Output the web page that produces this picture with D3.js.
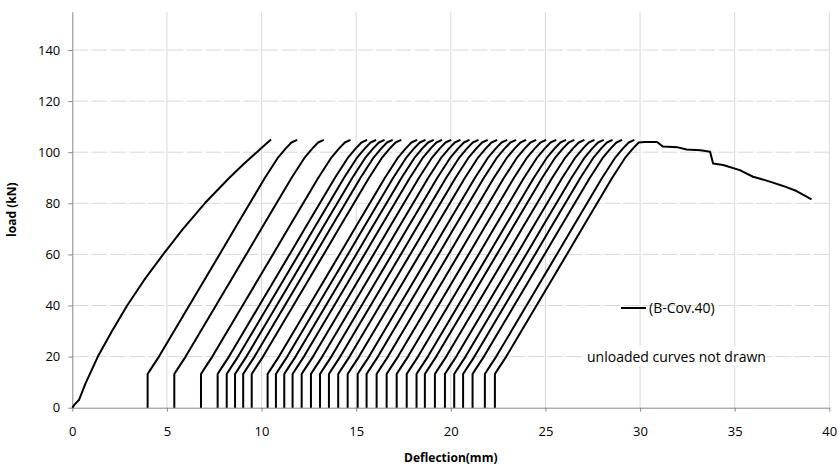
<!DOCTYPE html>
<html>
<head>
<meta charset="utf-8">
<script src="https://cdn.jsdelivr.net/npm/d3@7"></script>
<style>
  body { margin: 0; background: #fff; }
  text { font-family: "Open Sans", "Noto Sans", sans-serif; }
</style>
</head>
<body>
<div id="chart"></div>
<script>
// first loading curve (virgin)
const virginDefl = [0, 0.15, 0.35, 0.7, 1.35, 2.1, 2.9, 3.8, 4.8, 5.85, 7.0, 7.65, 8.3, 9.0, 9.75, 10.2, 10.5];
const virginLoad = [0, 1.5, 3, 9.5, 20, 30, 40, 50, 60, 70, 80, 85, 90, 95, 100, 103, 105];

// residual deflection where each reloading curve starts
const reloadStarts = [3.98, 5.39, 6.80, 7.68, 8.16, 8.60, 9.03, 9.48, 10.32, 10.76, 11.20,
  11.64, 12.12, 12.61, 13.09, 13.56, 14.05, 14.55, 15.08, 15.55, 16.08, 16.61, 17.14,
  17.67, 18.19, 18.63, 19.16, 19.69, 20.18, 20.65, 21.15, 21.80, 22.33];

// shape of a reloading branch, deflection measured from its start
const reloadDx   = [0, 0, 0.2, 0.6, 1.4, 2.2, 3.0, 3.8, 4.6, 5.4, 6.2, 6.9, 7.3, 7.6, 7.9];
const reloadLoad = [0, 13.2, 15.5, 20, 30, 40, 50, 60, 70, 80, 90, 98, 101.5, 103.8, 104.8];

// post-peak branch after last reload
const softDefl = [30.23, 30.9, 31.2, 32.0, 32.46, 33.2, 33.7, 33.86, 34.39, 35.27, 35.97, 36.86, 37.56, 38.27, 39.06];
const softLoad = [104.0, 104.0, 102.2, 101.9, 101.1, 100.8, 100.2, 95.6, 95.0, 93.0, 90.4, 88.5, 86.8, 84.8, 81.5];

const xTicks = [0, 5, 10, 15, 20, 25, 30, 35, 40];
const yTicks = [0, 20, 40, 60, 80, 100, 120, 140];

const width = 840, height = 472;
const margin = { top: 11.7, right: 10.7, bottom: 64.3, left: 72.3 };

const svg = d3.select("#chart").append("svg")
  .attr("width", width).attr("height", height);

const x = d3.scaleLinear().domain([0, 40]).range([margin.left, width - margin.right]);
const y = d3.scaleLinear().domain([0, 155]).range([height - margin.bottom, margin.top]);

// grid
svg.append("g").selectAll("line").data(xTicks.slice(1)).join("line")
  .attr("x1", d => x(d)).attr("x2", d => x(d))
  .attr("y1", y(0)).attr("y2", y(155))
  .attr("stroke", "#d9d9d9").attr("stroke-width", 1);
svg.append("g").selectAll("line").data(yTicks.slice(1)).join("line")
  .attr("x1", x(0)).attr("x2", x(40))
  .attr("y1", d => y(d)).attr("y2", d => y(d))
  .attr("stroke", "#d9d9d9").attr("stroke-width", 1)
  .attr("stroke-dasharray", "16,3");

// axes
const xAxis = svg.append("g")
  .attr("transform", `translate(0,${y(0)})`)
  .call(d3.axisBottom(x).tickValues(xTicks).tickSize(4).tickPadding(15).tickSizeOuter(0));
const yAxis = svg.append("g")
  .attr("transform", `translate(${x(0)},0)`)
  .call(d3.axisLeft(y).tickValues(yTicks).tickSize(4).tickPadding(8).tickSizeOuter(0));
[xAxis, yAxis].forEach(a => {
  a.select(".domain").attr("stroke", "#868686");
  a.selectAll(".tick line").attr("stroke", "#868686");
  a.selectAll("text").attr("fill", "#000").style("font-size", "13px")
    .style("font-family", "'Open Sans', sans-serif");
});

// curves
const line = d3.line().x(d => x(d[0])).y(d => y(d[1]));
const series = [];
series.push(virginDefl.map((d, i) => [d, virginLoad[i]]));
reloadStarts.forEach((s, k) => {
  const pts = reloadDx.map((d, i) => [s + d, reloadLoad[i]]);
  if (k === reloadStarts.length - 1) {
    pts.pop();
    softDefl.forEach((d, i) => pts.push([d, softLoad[i]]));
  }
  series.push(pts);
});

svg.append("g").selectAll("path").data(series).join("path")
  .attr("d", line)
  .attr("fill", "none")
  .attr("stroke", "#000")
  .attr("stroke-width", 2)
  .attr("stroke-linejoin", "round");

// legend
const leg = svg.append("g");
leg.append("line").attr("x1", 621).attr("x2", 646).attr("y1", 308).attr("y2", 308)
  .attr("stroke", "#000").attr("stroke-width", 2);
leg.append("text").attr("x", 649).attr("y", 308).attr("dy", "0.35em")
  .style("font-size", "14px").text("(B-Cov.40)");

const note = svg.append("g");
const noteText = note.append("text").attr("x", 587).attr("y", y(20)).attr("dy", "0.35em")
  .style("font-size", "14px").text("unloaded curves not drawn");
const bb = noteText.node().getBBox();
note.insert("rect", "text").attr("x", bb.x - 2).attr("y", bb.y).attr("width", bb.width + 4)
  .attr("height", bb.height).attr("fill", "#fff");

// axis titles
svg.append("text").attr("x", (x(0) + x(40)) / 2).attr("y", 462)
  .attr("text-anchor", "middle").style("font-size", "12px").style("font-weight", "bold")
  .text("Deflection(mm)");
svg.append("text").attr("transform", `translate(16,${(y(0) + y(155)) / 2}) rotate(-90)`)
  .attr("text-anchor", "middle").style("font-size", "12px").style("font-weight", "bold")
  .text("load (kN)");
</script>
</body>
</html>
